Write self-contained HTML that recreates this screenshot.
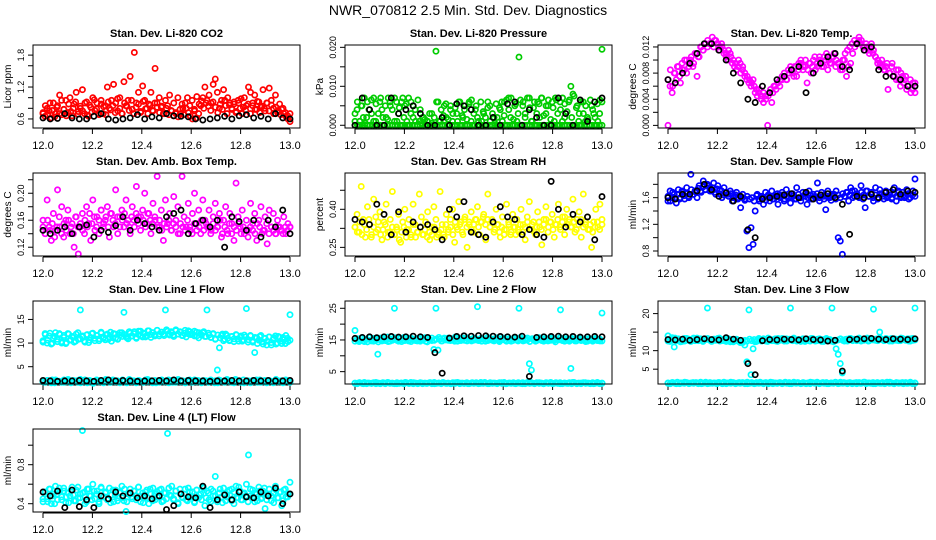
<!DOCTYPE html>
<html><head><meta charset="utf-8"><style>
html,body{margin:0;padding:0;background:#fff;}
svg{display:block;font-family:"Liberation Sans",sans-serif;}
</style></head><body>
<svg id="chart" width="936" height="540" viewBox="0 0 936 540" xmlns="http://www.w3.org/2000/svg">
<text x="468" y="15" text-anchor="middle" font-size="14">NWR_070812  2.5 Min. Std. Dev. Diagnostics</text>
</svg>
<script>
const xTicks=[12.0,12.2,12.4,12.6,12.8,13.0];
const xTickLabels=["12.0","12.2","12.4","12.6","12.8","13.0"];

const co2Red=[0.7,0.65,0.8,0.75,0.62,0.9,0.7,0.85,1.05,0.68,0.78,0.95,0.72,1.0,0.66,0.88,1.1,0.74,0.8,1.15,0.7,0.92,0.65,0.82,1.0,0.76,0.9,0.68,0.95,0.7,0.85,1.2,0.8,0.95,1.25,0.9,0.75,1.0,0.7,1.3,0.85,0.95,1.4,0.78,1.85,0.9,1.1,0.72,1.22,0.95,0.8,0.88,1.1,0.75,1.55,0.9,1.0,0.82,0.7,0.95,0.85,1.05,0.75,0.9,0.7,1.0,0.78,0.88,0.68,0.8,0.72,0.65,0.6,0.75,0.62,0.7,0.85,1.0,1.2,0.95,1.05,0.9,1.25,1.35,1.1,0.8,0.95,1.15,0.85,1.0,0.9,0.78,0.88,0.72,0.95,0.8,0.7,1.0,0.85,1.2,1.1,0.9,1.05,0.78,0.92,0.82,1.15,0.75,0.9,1.18,0.95,0.8,1.05,0.72,0.88,0.78,0.7,0.65,0.6,0.55];
const co2Band=[0.72,0.85,0.68,0.9,0.76,0.64,0.82,0.7,0.95,0.78,0.66,0.88,0.74,0.8,0.92,0.69,0.84,0.75,0.9,0.67,0.86,0.73,0.96,0.79,0.7,0.88,0.83,0.68,0.92,0.77,0.85,0.72,0.98,0.8,0.7,0.9,0.84,0.76,0.95,0.7,0.82,0.88,0.74,0.93,0.79,0.7,0.86,0.76,0.9,0.82,0.72,0.84,0.7,0.8,0.68,0.76,0.66,0.72,0.64,0.7,0.8,0.9,1.0,0.85,0.95,0.78,1.02,0.88,0.94,0.8,0.9,0.84,0.76,0.92,0.82,0.72,0.88,0.78,0.95,0.7,0.86,0.8,0.92,0.74,0.9,0.98,0.82,0.76,0.88,0.7,0.85,0.78,0.93,0.72,0.84,0.8,0.9,0.75,0.86,0.7,0.82,0.76,0.68,0.8,0.72,0.66,0.7];
const co2Black=[0.62,0.6,0.61,0.7,0.62,0.6,0.6,0.65,0.7,0.6,0.58,0.6,0.62,0.68,0.6,0.64,0.62,0.7,0.66,0.65,0.64,0.6,0.58,0.6,0.62,0.65,0.6,0.66,0.68,0.62,0.65,0.6,0.7,0.62,0.6];

const presGreen=[0.001,0.004,0,0.005,0.002,0.0005,0.006,0,0.003,0.007,0.001,0,0.006,0.004,0,0.002,0.007,0.005,0,0.001,0.006,0.003,0,0.007,0.005,0.001,0,0.006,0.002,0.004,0,0.001,0.0005,0.002,0,0.001,0,0.003,0,0.019,0.006,0.001,0,0.005,0.002,0,0.004,0.001,0,0.003,0.006,0,0.002,0.005,0,0.006,0.001,0,0.004,0.002,0,0.001,0.003,0,0.006,0.005,0,0.002,0.0055,0,0.004,0.001,0.006,0,0.007,0.002,0,0.005,0.001,0.0175,0,0.006,0.003,0,0.007,0.001,0.0045,0,0.006,0.002,0.007,0,0.003,0.005,0,0.006,0.001,0.0065,0,0.004,0.007,0.002,0,0.006,0.01,0.008,0,0.005,0.003,0,0.006,0.001,0.002,0,0.005,0.003,0,0.001,0.0065,0.0195];
const presBand=[0.003,0.006,0.001,0.005,0.007,0.002,0.004,0.0065,0.001,0.0055,0.003,0.007,0.002,0.005,0.0015,0.006,0.004,0.007,0.001,0.0045,0.006,0.002,0.0055,0.007,0.003,0.005,0.001,0.0065,0.004,0.002,0.0015,0.001,0.003,0.0005,0.002,0.006,0.001,0.004,0.0025,0.0055,0.0015,0.005,0.003,0.0045,0.001,0.006,0.0025,0.004,0.0015,0.0055,0.0065,0.003,0.005,0.001,0.006,0.0035,0.002,0.0045,0.001,0.003,0.0005,0.002,0.0045,0.006,0.0025,0.0065,0.004,0.007,0.0015,0.0055,0.003,0.0065,0.005,0.002,0.007,0.0045,0.001,0.006,0.003,0.0055,0.007,0.0025,0.005,0.0065,0.0015,0.0045,0.007,0.003,0.006,0.001,0.0055,0.0035,0.0065,0.002,0.0075,0.0045,0.001,0.006,0.003,0.005,0.0015,0.0065,0.004,0.002,0.0055,0.003,0.006];
const presGreenBase=[0,0,0,0,0,0,0,0,0,0,0,0,0,0,0,0,0,0,0,0,0,0,0,0,0,0,0,0,0,0,0,0,0,0,0,0,0,0,0,0,0,0,0,0,0,0,0,0,0,0,0,0,0,0,0,0,0,0,0,0,0,0,0,0,0,0,0,0,0,0,0,0,0,0,0,0,0,0,0,0,0,0,0,0,0,0,0,0,0,0,0,0,0,0,0,0,0,0,0,0];
const presBlack=[0,0.007,0.004,0,0,0.007,0.003,0.004,0.005,0.003,0,0,0.002,0,0.0055,0.005,0.004,0,0,0.002,0,0.0055,0.006,0,0.004,0.002,0,0,0.007,0.003,0,0.0065,0.001,0.006,0.007];

const tempMag=[0.0,0.006,0.005,0.008,0.007,0.009,0.0065,0.0085,0.01,0.008,0.0095,0.01,0.009,0.011,0.0075,0.0105,0.012,0.0115,0.0125,0.012,0.0125,0.0125,0.012,0.013,0.0125,0.0115,0.012,0.011,0.0105,0.01,0.011,0.0095,0.009,0.0085,0.01,0.008,0.009,0.0075,0.007,0.0065,0.006,0.007,0.005,0.0045,0.0055,0.004,0.0035,0.0045,0.0,0.005,0.0035,0.006,0.0055,0.0065,0.007,0.0075,0.008,0.007,0.0085,0.009,0.008,0.009,0.0075,0.0095,0.01,0.0085,0.009,0.0065,0.0095,0.008,0.01,0.0085,0.009,0.0105,0.0095,0.009,0.01,0.0085,0.0095,0.0105,0.011,0.01,0.0095,0.009,0.0085,0.01,0.0075,0.009,0.0095,0.011,0.012,0.0125,0.013,0.0125,0.012,0.0115,0.012,0.011,0.0125,0.0115,0.0105,0.0095,0.009,0.01,0.0085,0.009,0.0055,0.008,0.0095,0.0075,0.007,0.0085,0.006,0.0075,0.007,0.0055,0.006,0.005,0.0065,0.005];
const tempBand=[0.007,0.0085,0.006,0.008,0.009,0.0075,0.0095,0.0085,0.01,0.009,0.0105,0.0095,0.011,0.0105,0.012,0.0115,0.0125,0.013,0.0125,0.0135,0.013,0.0125,0.012,0.0125,0.0115,0.011,0.0115,0.0105,0.01,0.0095,0.009,0.0095,0.0085,0.008,0.0075,0.007,0.0065,0.006,0.0055,0.005,0.0045,0.005,0.004,0.0045,0.0055,0.005,0.006,0.0065,0.006,0.007,0.0075,0.007,0.008,0.0085,0.0075,0.009,0.0085,0.0095,0.009,0.01,0.0085,0.0095,0.009,0.0105,0.0095,0.01,0.009,0.0105,0.011,0.01,0.0095,0.0105,0.009,0.0095,0.0085,0.01,0.011,0.0115,0.012,0.0125,0.013,0.0125,0.0135,0.013,0.012,0.0125,0.0115,0.012,0.011,0.0105,0.01,0.0095,0.009,0.0085,0.0095,0.008,0.009,0.0075,0.0085,0.007,0.008,0.0065,0.0075,0.006,0.007,0.0055,0.0065];
const tempBlack=[0.007,0.0065,0.008,0.0095,0.011,0.0125,0.0125,0.0115,0.01,0.008,0.0065,0.004,0.0035,0.006,0.005,0.007,0.0075,0.0085,0.009,0.005,0.008,0.0095,0.0105,0.011,0.009,0.0085,0.0125,0.0115,0.012,0.0085,0.0075,0.0075,0.007,0.006,0.006];

const ambMag=[0.16,0.14,0.19,0.15,0.13,0.17,0.145,0.205,0.15,0.18,0.135,0.16,0.175,0.14,0.155,0.12,0.165,0.11,0.15,0.17,0.14,0.18,0.155,0.13,0.19,0.145,0.165,0.14,0.175,0.15,0.16,0.18,0.135,0.17,0.15,0.205,0.14,0.165,0.175,0.15,0.19,0.16,0.14,0.18,0.15,0.21,0.165,0.145,0.175,0.2,0.155,0.17,0.14,0.185,0.16,0.225,0.15,0.175,0.13,0.19,0.155,0.17,0.145,0.195,0.16,0.18,0.14,0.225,0.165,0.15,0.185,0.145,0.17,0.2,0.155,0.175,0.14,0.19,0.16,0.15,0.175,0.145,0.165,0.185,0.15,0.17,0.135,0.16,0.18,0.14,0.17,0.155,0.13,0.215,0.165,0.15,0.175,0.14,0.16,0.145,0.185,0.155,0.17,0.13,0.16,0.18,0.145,0.165,0.125,0.175,0.15,0.17,0.14,0.16,0.15,0.145,0.165,0.14,0.155,0.15];
const ambBand=[0.15,0.14,0.16,0.145,0.155,0.135,0.15,0.165,0.14,0.155,0.145,0.16,0.15,0.14,0.165,0.15,0.155,0.145,0.16,0.15,0.17,0.155,0.165,0.15,0.16,0.175,0.155,0.165,0.15,0.17,0.16,0.155,0.165,0.15,0.16,0.17,0.155,0.15,0.165,0.16,0.17,0.155,0.165,0.16,0.15,0.17,0.16,0.155,0.165,0.15,0.16,0.145,0.155,0.15,0.16,0.145,0.155,0.15,0.14,0.155,0.15,0.145,0.16,0.15,0.14,0.155,0.145,0.15,0.16,0.145,0.155,0.15,0.14,0.155,0.145,0.15,0.16,0.14,0.15,0.145,0.155,0.14,0.15,0.145,0.155,0.14,0.15,0.145,0.135,0.15,0.145,0.14,0.155,0.15,0.14,0.145,0.155,0.14,0.15,0.145,0.14,0.15,0.145,0.14,0.15,0.145,0.15];
const ambBlack=[0.145,0.14,0.145,0.15,0.14,0.15,0.153,0.135,0.145,0.142,0.152,0.165,0.145,0.16,0.155,0.15,0.145,0.165,0.17,0.175,0.14,0.155,0.16,0.15,0.16,0.12,0.165,0.158,0.145,0.16,0.135,0.16,0.15,0.175,0.14];

const rhYellow=[0.33,0.38,0.31,0.49,0.36,0.29,0.41,0.34,0.3,0.44,0.37,0.32,0.39,0.28,0.35,0.42,0.31,0.36,0.47,0.3,0.33,0.38,0.27,0.35,0.4,0.32,0.36,0.29,0.42,0.34,0.31,0.46,0.37,0.3,0.35,0.39,0.28,0.33,0.41,0.36,0.3,0.47,0.34,0.29,0.38,0.32,0.36,0.4,0.27,0.33,0.43,0.35,0.3,0.37,0.25,0.34,0.39,0.31,0.36,0.41,0.3,0.35,0.38,0.28,0.46,0.33,0.36,0.31,0.4,0.34,0.29,0.37,0.32,0.42,0.35,0.3,0.38,0.33,0.36,0.31,0.4,0.34,0.28,0.37,0.43,0.32,0.35,0.3,0.39,0.33,0.26,0.36,0.41,0.31,0.35,0.38,0.29,0.34,0.42,0.32,0.37,0.3,0.4,0.35,0.33,0.44,0.31,0.36,0.39,0.29,0.46,0.34,0.37,0.32,0.25,0.35,0.4,0.33,0.42,0.36];
const rhBand=[0.33,0.31,0.35,0.3,0.34,0.32,0.36,0.29,0.33,0.31,0.35,0.3,0.32,0.34,0.29,0.31,0.33,0.3,0.32,0.28,0.31,0.33,0.29,0.32,0.3,0.34,0.29,0.31,0.33,0.3,0.32,0.29,0.31,0.3,0.33,0.29,0.31,0.32,0.3,0.34,0.31,0.33,0.3,0.35,0.32,0.34,0.31,0.36,0.33,0.35,0.32,0.34,0.36,0.33,0.35,0.37,0.34,0.36,0.33,0.35,0.32,0.34,0.31,0.33,0.3,0.32,0.34,0.31,0.33,0.3,0.32,0.34,0.31,0.33,0.35,0.32,0.34,0.31,0.33,0.35,0.32,0.34,0.36,0.33,0.35,0.32,0.34,0.36,0.33,0.35,0.37,0.34,0.36,0.33,0.35,0.32,0.34,0.36,0.33,0.35,0.32,0.34,0.31,0.33,0.35,0.32,0.34];
const rhBlack=[0.36,0.35,0.34,0.42,0.38,0.3,0.39,0.31,0.35,0.33,0.34,0.32,0.28,0.4,0.37,0.43,0.31,0.3,0.29,0.35,0.41,0.37,0.36,0.3,0.32,0.3,0.29,0.51,0.4,0.33,0.38,0.35,0.37,0.28,0.45];

const flowBlue=[1.55,1.7,1.6,1.65,1.52,1.72,1.6,1.68,1.58,1.75,1.62,1.95,1.65,1.7,1.6,1.78,1.68,1.85,1.72,1.8,1.75,1.7,1.82,1.65,1.78,1.72,1.6,1.75,1.68,1.65,1.7,1.55,1.62,1.68,1.6,1.45,1.65,1.58,1.1,0.85,1.15,0.9,1.4,1.65,1.55,1.6,1.5,1.68,1.62,1.55,1.7,1.58,1.65,1.5,1.62,1.68,1.55,1.72,1.6,1.52,1.66,1.58,1.75,1.6,1.55,1.68,1.62,1.5,1.7,1.58,1.65,1.6,1.82,1.55,1.68,1.62,1.42,1.7,1.6,1.65,1.65,1.7,1.0,0.95,0.75,1.62,1.68,1.55,1.75,1.6,1.7,1.65,1.62,1.78,1.58,1.45,1.7,1.62,1.68,1.55,1.75,1.6,1.72,1.65,1.58,1.7,1.62,1.68,1.6,1.75,1.55,1.7,1.62,1.68,1.6,1.72,1.58,1.65,1.7,1.88];
const flowBand=[1.62,1.55,1.68,1.6,1.65,1.58,1.7,1.63,1.66,1.6,1.72,1.65,1.68,1.74,1.7,1.76,1.72,1.78,1.7,1.75,1.68,1.73,1.66,1.7,1.64,1.68,1.62,1.66,1.6,1.64,1.58,1.62,1.6,1.56,1.62,1.58,1.6,1.55,1.63,1.58,1.62,1.6,1.56,1.64,1.6,1.58,1.62,1.66,1.6,1.64,1.58,1.62,1.66,1.6,1.63,1.58,1.65,1.6,1.62,1.66,1.6,1.64,1.58,1.62,1.66,1.6,1.64,1.58,1.62,1.6,1.56,1.62,1.58,1.64,1.6,1.66,1.62,1.68,1.64,1.7,1.62,1.66,1.6,1.68,1.64,1.7,1.62,1.66,1.6,1.64,1.58,1.66,1.62,1.68,1.6,1.64,1.58,1.66,1.62,1.68,1.6,1.64,1.62,1.66,1.6,1.64,1.62];
const flowBlack=[1.6,1.58,1.65,1.65,1.7,1.8,1.72,1.62,1.67,1.55,1.62,1.12,1.0,1.58,1.6,1.62,1.64,1.66,1.6,1.68,1.58,1.64,1.66,1.6,1.5,1.05,1.62,1.6,1.65,1.6,1.68,1.72,1.65,1.7,1.68];

const l1CyanUp=[10.5,12,10,11.5,9.8,11,12.2,10.3,11.8,10,11.2,9.9,12,10.6,11.4,10.2,11.9,10.8,17,11.3,10.4,11.7,10.1,11.2,12.1,10.5,11.6,10.9,12.3,11,10.7,11.9,11.3,10.4,12,11.1,10.8,11.7,12.2,16.5,11.4,10.9,12.1,11.5,12.4,11,11.8,12.5,11.3,12,11.6,12.6,11.2,12.2,11.8,12.7,11.5,12.3,11.9,17,12.5,11.7,12.2,11.4,12.8,11.9,12.4,11.6,12.1,11.3,12.6,11.8,12,11.5,12.3,11.1,11.9,12.2,11.4,17,11.7,11.2,12,10.8,4.3,9,11.6,10.5,11.9,11,10.6,11.4,10.3,11.8,10.9,11.2,10.4,11.7,17.3,10.7,11.5,10.2,8,11.1,10.6,11.6,9.8,11,10.4,11.3,9.6,10.8,11.5,10,11.2,9.9,10.7,11.6,10.3,16];
const l1UpBand=[10.2,11.8,10.6,12.1,10,11.4,10.8,12,10.3,11.6,10.1,11.9,10.7,11.2,10.4,12.2,10.9,11.5,10.2,11.8,10.6,12,11,11.6,10.5,12.1,11.2,11.7,10.8,12.3,11.1,11.9,10.9,12.2,11.4,11.8,11.1,12.4,11.5,12,11.2,12.5,11.6,12.1,11.3,12.6,11.8,12.2,11.5,12.7,11.9,12.3,11.6,12.8,12,12.4,11.7,12.6,11.9,12.3,11.6,12.7,12,12.4,11.8,12.5,11.5,12.2,11.7,12.4,11.4,12.1,11.2,11.9,10.9,11.7,11.1,11.9,10.8,11.6,10.5,11.4,10.9,11.7,10.4,11.5,10.7,11.3,10.2,11.6,10.5,11.2,9.9,11.4,10.3,11,9.6,11.3,10.1,11.1,9.8,11.4,10.4,11.2,9.9,11,10.6];
const l1CyanLow=[1.8,2.1,1.6,2.2,1.9,1.7,2.3,1.8,2.0,1.6,2.2,1.9,1.5,2.1,1.8,2.3,1.7,2.0,1.9,2.2,1.6,2.1,1.8,2.0,1.7,2.3,1.9,1.6,2.1,1.8,2.2,1.7,2.0,1.9,1.6,2.2,1.8,2.1,1.7,2.0,1.9,1.6,2.2,1.8,2.1,1.7,2.3,1.9,1.6,2.0,1.8,2.2,1.7,2.1,1.9,1.6,2.0,1.8,2.2,1.9];
const l1LowBand=[1.9,1.7,2.1,1.8,2.2,1.6,2.0,1.9,1.7,2.2,1.8,2.0,1.6,2.1,1.9,1.7,2.3,1.8,2.0,1.6,2.1,1.9,1.7,2.2,1.8,2.0,1.6,2.1,1.9,1.7,2.2,1.8,2.0,1.6,2.1,1.9,1.7,2.3,1.8,2.0,1.6,2.1,1.9,1.7,2.2,1.8,2.0,1.6,2.1,1.9,1.7,2.2,1.8,2.0,1.6,2.1,1.9,1.7,2.3,1.8,2.0,1.6,2.1,1.9,1.7,2.2,1.8,2.0,1.6,2.1,1.9,1.7,2.2,1.8,2.0,1.6,2.1,1.9,1.7,2.3,1.8,2.0,1.6,2.1,1.9,1.7,2.2,1.8,2.0,1.6,2.1,1.9,1.7,2.2,1.8,2.0,1.6,2.1,1.9,1.7,2.3,1.8,2.0,1.6,2.1,1.9,1.7];
const l1Black=[2.1,2.0,1.9,2.0,2.0,2.1,2.0,1.9,2.1,2.2,2.0,2.1,2.0,1.9,2.0,2.0,2.1,2.0,2.2,2.0,2.1,2.0,2.0,1.9,2.0,2.0,2.1,2.0,2.0,2.1,2.0,2.1,2.0,2.0,2.1];

const l2CyanUp=[18,15,14.5,15.5,14.8,15.2,14.4,15.8,15,14.6,15.4,10.5,15.1,14.7,15.6,15,14.5,15.3,14.9,25,15.2,14.6,15.5,15,14.8,15.7,15.1,14.5,15.3,15,14.7,15.6,14.9,15.2,14.6,15.5,15,14.8,12,25,11.8,15.3,14.7,15.6,15.1,14.9,15.4,15,14.6,15.5,15.2,14.8,15.6,15,14.7,15.3,15.1,14.9,15.5,25.5,15,14.6,15.4,15.2,14.8,15.6,15,14.7,15.3,15.1,14.9,15.5,15,14.6,15.4,15.2,14.8,15.5,15,25,15.2,14.7,15.4,15,7.5,5.5,15.3,14.6,15.5,15.1,14.8,15.4,15,14.7,15.6,15.2,14.9,15.3,15,24.5,15.1,14.6,15.4,15,6,15.2,14.7,15.5,15.1,14.8,15.3,15,14.6,15.4,15.2,14.9,15.5,15,14.7,23.5];
const l2UpBand=[14.6,15.4,14.9,15.7,14.5,15.2,15.8,14.7,15.5,15,14.4,15.6,15.1,14.8,15.9,14.6,15.3,15.7,14.9,15.4,14.5,15.8,15.2,14.7,15.6,15,14.8,15.5,14.6,15.3,15.7,14.4,15.1,15.6,14.9,15.3,15.8,14.7,15.4,15,15.6,14.8,15.3,15.9,14.6,15.5,15.1,14.9,15.7,15.2,14.7,15.6,15,14.8,15.5,15.3,14.6,15.8,15.1,14.9,15.4,15.7,14.5,15.2,15.6,14.8,15.3,14.6,15.5,15,14.7,15.8,15.2,14.9,15.6,14.5,15.4,15.1,14.8,15.7,15,14.6,15.5,15.3,14.9,15.6,14.4,15.2,15.7,14.8,15.4,15,14.6,15.5,15.1,14.7,15.6,14.9,15.3,14.5,15.4,15,14.6,15.2,14.8,15.3,14.7];
const l2CyanLow=[1.3,1.5,1.2,1.4,1.3,1.6,1.2,1.4,1.5,1.3,1.2,1.4,1.6,1.3,1.5,1.2,1.4,1.3,1.5,1.2,1.4,1.6,1.3,1.2,1.5,1.4,1.3,1.2,1.5,1.4,1.3,1.6,1.2,1.4,1.3,1.5,1.2,1.4,1.3,1.5,1.2,1.4,1.6,1.3,1.5,1.2,1.4,1.3,1.5,1.2,1.4,1.3,1.6,1.2,1.4,1.5,1.3,1.2,1.4,1.3];
const l2LowBand=[1.4,1.2,1.5,1.3,1.6,1.2,1.4,1.3,1.5,1.2,1.4,1.3,1.5,1.2,1.6,1.3,1.4,1.2,1.5,1.3,1.4,1.2,1.5,1.3,1.6,1.2,1.4,1.3,1.5,1.2,1.4,1.3,1.5,1.2,1.6,1.3,1.4,1.2,1.5,1.3,1.4,1.2,1.5,1.3,1.6,1.2,1.4,1.3,1.5,1.2,1.4,1.3,1.5,1.2,1.6,1.3,1.4,1.2,1.5,1.3,1.4,1.2,1.5,1.3,1.6,1.2,1.4,1.3,1.5,1.2,1.4,1.3,1.5,1.2,1.6,1.3,1.4,1.2,1.5,1.3,1.4,1.2,1.5,1.3,1.6,1.2,1.4,1.3,1.5,1.2,1.4,1.3,1.5,1.2,1.6,1.3,1.4,1.2,1.5,1.3,1.4,1.2,1.5,1.3,1.6,1.2,1.4];
const l2Black=[15.5,15.8,16,15.7,16,16.1,15.9,16,16.2,16,15.8,11,4.5,15.6,16.1,16.3,16.2,16.4,16.3,16.2,16.1,16,15.9,16.2,3.5,15.8,16,16.1,16.2,16,16.1,15.9,16,16.1,16];

const l3CyanUp=[14,12.5,13.5,11,12.8,13.2,12.4,13,12.6,13.3,12.9,12.5,13.1,12.7,13.4,12.8,13,12.6,13.2,21.5,12.9,12.5,13.1,12.8,13.3,12.6,13,12.7,13.2,12.9,12.4,13,12.6,13.1,12.8,12.5,12.2,11.5,7,21,3.5,10.5,12.4,12.8,13,12.6,13.2,12.9,12.5,13.1,12.7,13,12.6,13.3,12.8,13,12.6,13.2,12.9,21.5,12.7,13.1,12.6,13,12.8,13.2,12.5,13,12.7,13.3,12.9,12.6,13.1,12.8,13,12.5,13.2,12.7,13,21.5,12.8,10.5,9,6.5,4,12.6,13.1,12.9,13.3,12.7,13,12.8,13.2,12.6,13.1,12.9,13.4,12.7,13,21.2,12.8,13.2,15,13,12.7,13.3,12.9,13.1,12.6,13.2,12.8,13,12.7,13.3,12.9,13.1,12.6,13.2,12.8,21.5];
const l3UpBand=[12.6,13.2,12.9,13.4,12.7,13,12.5,13.3,12.8,13.1,12.6,13.4,12.9,12.7,13.2,12.5,13,13.3,12.8,12.6,13.1,12.9,13.4,12.7,13,12.5,13.2,12.8,12.4,12.9,12.6,12.2,12.5,12.8,12.6,13.1,12.7,13,12.5,13.3,12.8,13.1,12.6,13.4,12.9,12.7,13.2,12.5,13,13.3,12.8,12.6,13.1,12.9,13.4,12.7,13,12.5,13.2,12.8,13.1,12.6,13.3,12.9,12.7,13.2,12.5,13,13.3,12.8,12.6,12.4,12.7,12.9,13.2,12.8,13,12.6,13.3,12.9,13.1,12.7,13.4,13,12.8,13.2,12.6,13.3,12.9,13.1,12.7,13.4,13,12.8,13.2,12.6,13.3,12.9,13.1,12.7,13.4,13,12.8,13.2,12.6,13.3,12.9];
const l3CyanLow=[1.2,1.4,1.1,1.3,1.5,1.2,1.4,1.3,1.1,1.5,1.2,1.3,1.4,1.1,1.3,1.5,1.2,1.4,1.3,1.1,1.4,1.2,1.5,1.3,1.1,1.4,1.2,1.3,1.5,1.1,1.3,1.4,1.2,1.1,1.5,1.3,1.2,1.4,1.1,1.3,1.5,1.2,1.4,1.3,1.1,1.4,1.2,1.5,1.3,1.1,1.4,1.2,1.3,1.5,1.1,1.3,1.4,1.2,1.3,1.2];
const l3LowBand=[1.3,1.1,1.4,1.2,1.5,1.1,1.3,1.2,1.4,1.1,1.3,1.2,1.4,1.1,1.5,1.2,1.3,1.1,1.4,1.2,1.3,1.1,1.4,1.2,1.5,1.1,1.3,1.2,1.4,1.1,1.3,1.2,1.4,1.1,1.5,1.2,1.3,1.1,1.4,1.2,1.3,1.1,1.4,1.2,1.5,1.1,1.3,1.2,1.4,1.1,1.3,1.2,1.4,1.1,1.5,1.2,1.3,1.1,1.4,1.2,1.3,1.1,1.4,1.2,1.5,1.1,1.3,1.2,1.4,1.1,1.3,1.2,1.4,1.1,1.5,1.2,1.3,1.1,1.4,1.2,1.3,1.1,1.4,1.2,1.5,1.1,1.3,1.2,1.4,1.1,1.3,1.2,1.4,1.1,1.5,1.2,1.3,1.1,1.4,1.2,1.3,1.1,1.4,1.2,1.5,1.1,1.3];
const l3Black=[13,12.9,13.1,12.8,13,13.2,13,12.9,13.5,13.1,12.8,6.5,3.5,12.7,13,12.9,13.1,13,12.9,13.2,13,12.9,12.6,12.8,4.5,13,13.1,13.2,13.3,13.1,13,13.2,13.1,13,13.2];

const l4Cyan=[0.42,0.52,0.45,0.55,0.4,0.5,0.58,0.44,0.53,0.47,0.56,0.41,0.51,0.48,0.57,0.43,0.54,0.46,0.5,1.15,0.52,0.42,0.55,0.48,0.6,0.45,0.53,0.4,0.57,0.47,0.51,0.44,0.56,0.49,0.42,0.54,0.46,0.52,0.58,0.43,0.32,0.5,0.55,0.45,0.53,0.48,0.57,0.42,0.51,0.46,0.54,0.4,0.5,0.56,0.44,0.52,0.47,0.55,0.43,0.51,1.12,0.49,0.58,0.45,0.53,0.41,0.55,0.47,0.5,0.44,0.56,0.48,0.52,0.42,0.54,0.46,0.5,0.57,0.38,0.53,0.44,0.55,0.48,0.68,0.42,0.51,0.47,0.56,0.43,0.52,0.49,0.55,0.4,0.58,0.46,0.53,0.44,0.51,0.6,0.9,0.48,0.54,0.42,0.5,0.57,0.45,0.53,0.35,0.49,0.55,0.43,0.51,0.58,0.46,0.52,0.38,0.54,0.47,0.5,0.62];
const l4Band=[0.45,0.52,0.42,0.55,0.48,0.4,0.5,0.56,0.44,0.53,0.47,0.41,0.54,0.49,0.43,0.57,0.46,0.51,0.4,0.55,0.48,0.44,0.53,0.5,0.42,0.56,0.47,0.52,0.45,0.41,0.54,0.49,0.43,0.51,0.46,0.55,0.42,0.5,0.47,0.53,0.44,0.57,0.48,0.41,0.52,0.46,0.55,0.43,0.5,0.47,0.54,0.42,0.51,0.45,0.56,0.48,0.44,0.53,0.4,0.5,0.46,0.55,0.43,0.52,0.47,0.41,0.54,0.49,0.44,0.56,0.46,0.51,0.42,0.53,0.48,0.45,0.55,0.41,0.5,0.47,0.54,0.43,0.52,0.46,0.57,0.44,0.5,0.48,0.42,0.55,0.47,0.51,0.43,0.53,0.46,0.56,0.44,0.5,0.48,0.41,0.54,0.46,0.52,0.43,0.55,0.47,0.5];
const l4Black=[0.52,0.48,0.53,0.36,0.54,0.37,0.44,0.36,0.48,0.45,0.52,0.48,0.51,0.46,0.48,0.45,0.48,0.34,0.38,0.5,0.47,0.46,0.58,0.36,0.44,0.49,0.44,0.52,0.47,0.46,0.52,0.48,0.56,0.4,0.5];

const NS="http://www.w3.org/2000/svg";
const svg=document.getElementById('chart');
const colL=[33,345,658], rowT=[45,173,301,429], PW=267, PH=83;
function mk(tag,attrs,parent){const e=document.createElementNS(NS,tag);for(const k in attrs)e.setAttribute(k,attrs[k]);(parent||svg).appendChild(e);return e;}

function panel(key,title,ylab,col,row,ylim,yTicks,yTickLabels,series){
  const L=colL[col],T=rowT[row],R=L+PW,B=T+PH;
  const g=mk('g',{});
  
  
  const xs=t=>L+10+(t-12)*(PW-20);
  const ys=v=>B-(v-ylim[0])/(ylim[1]-ylim[0])*PH;
  const tt=mk('text',{x:(L+R)/2,y:T-8,'text-anchor':'middle','font-size':11,'font-weight':'bold'},g);
  tt.textContent=title;
  
  
  const yl=mk('text',{x:0,y:0,'text-anchor':'middle','font-size':10,transform:`translate(${L-22},${(T+B)/2}) rotate(-90)`},g);
  yl.textContent=ylab;
  
  
  const xa=mk('g',{},g);
  
  
  mk('line',{x1:xs(xTicks[0]),x2:xs(xTicks[xTicks.length-1]),y1:B+1,y2:B+1,stroke:'#000'},xa);
  xTicks.forEach((t,i)=>{
    mk('line',{x1:xs(t),x2:xs(t),y1:B+1,y2:B+6,stroke:'#000'},xa);
    const lt=mk('text',{x:xs(t),y:B+21,'text-anchor':'middle','font-size':11},xa);
    lt.textContent=xTickLabels[i];
    
    
  });
  const ya=mk('g',{},g);
  
  
  mk('line',{x1:L,x2:L,y1:ys(yTicks[0]),y2:ys(yTicks[yTicks.length-1]),stroke:'#000'},ya);
  yTicks.forEach((v,i)=>{
    const y=ys(v);
    mk('line',{x1:L-5,x2:L,y1:y,y2:y,stroke:'#000'},ya);
    if(yTickLabels[i]){
      const lt=mk('text',{x:0,y:0,'text-anchor':'middle','font-size':9,transform:`translate(${L-9},${y}) rotate(-90)`},ya);
      lt.textContent=yTickLabels[i];
      
      
    }
  });
  series.forEach(s=>{
    const sg=mk('g',{fill:'none',stroke:s.color,'stroke-width':1.7},g);
    
    
    const n=s.vals.length;
    s.vals.forEach((v,i)=>{
      const t=12+i/(n-1);
      const c=mk('circle',{cx:xs(t),cy:ys(v),r:2.6},sg);
      
      
    });
  });
  const box=mk('rect',{x:L,y:T,width:PW,height:PH,fill:'none',stroke:'#000'},g);
  
  
}

panel('co2','Stan. Dev. Li-820 CO2','Licor ppm',0,0,[0.43,1.99],[0.6,0.8,1.0,1.2,1.4,1.6,1.8],['0.6','','','1.2','','','1.8'],
  [{name:'red-band',color:'#ff0000',vals:co2Band},{name:'red-series',color:'#ff0000',vals:co2Red},{name:'black-series',color:'#000',vals:co2Black}]);
panel('pressure','Stan. Dev. Li-820 Pressure','kPa',1,0,[-0.0007,0.0206],[0,0.005,0.01,0.015,0.02],['0.000','','0.010','','0.020'],
  [{name:'green-base',color:'#00cc00',vals:presGreenBase},{name:'green-band',color:'#00cc00',vals:presBand},{name:'green-series',color:'#00cc00',vals:presGreen},{name:'black-series',color:'#000',vals:presBlack}]);
panel('temp','Stan. Dev. Li-820 Temp.','degrees C',2,0,[-0.0004,0.0123],[0,0.002,0.004,0.006,0.008,0.01,0.012],['0.000','','0.004','','0.008','','0.012'],
  [{name:'magenta-band',color:'#ff00ff',vals:tempBand},{name:'magenta-series',color:'#ff00ff',vals:tempMag},{name:'black-series',color:'#000',vals:tempBlack}]);
panel('ambbox','Stan. Dev. Amb. Box Temp.','degrees C',0,1,[0.107,0.230],[0.12,0.14,0.16,0.18,0.2,0.22],['0.12','','0.16','','0.20',''],
  [{name:'magenta-band',color:'#ff00ff',vals:ambBand},{name:'magenta-series',color:'#ff00ff',vals:ambMag},{name:'black-series',color:'#000',vals:ambBlack}]);
panel('rh','Stan. Dev. Gas Stream RH','percent',1,1,[0.216,0.543],[0.25,0.325,0.40,0.475],['0.25','','0.40',''],
  [{name:'yellow-band',color:'#ffff00',vals:rhBand},{name:'yellow-series',color:'#ffff00',vals:rhYellow},{name:'black-series',color:'#000',vals:rhBlack}]);
panel('sampleflow','Stan. Dev. Sample Flow','ml/min',2,1,[0.725,1.97],[0.8,1.0,1.2,1.4,1.6,1.8],['0.8','','1.2','','1.6',''],
  [{name:'blue-band',color:'#0000ff',vals:flowBand},{name:'blue-series',color:'#0000ff',vals:flowBlue},{name:'black-series',color:'#000',vals:flowBlack}]);
panel('line1','Stan. Dev. Line 1 Flow','ml/min',0,2,[1.34,18.9],[5,10,15],['5','10','15'],
  [{name:'cyan-upper-band',color:'#00ffff',vals:l1UpBand},{name:'cyan-upper',color:'#00ffff',vals:l1CyanUp},{name:'cyan-lower',color:'#00ffff',vals:l1CyanLow},{name:'cyan-lower-band',color:'#00ffff',vals:l1LowBand},{name:'black-series',color:'#000',vals:l1Black}]);
panel('line2','Stan. Dev. Line 2 Flow','ml/min',1,2,[1.1,27.3],[5,10,15,20,25],['5','','15','','25'],
  [{name:'cyan-upper-band',color:'#00ffff',vals:l2UpBand},{name:'cyan-upper',color:'#00ffff',vals:l2CyanUp},{name:'cyan-lower',color:'#00ffff',vals:l2CyanLow},{name:'cyan-lower-band',color:'#00ffff',vals:l2LowBand},{name:'black-series',color:'#000',vals:l2Black}]);
panel('line3','Stan. Dev. Line 3 Flow','ml/min',2,2,[1.0,23.4],[5,10,15,20],['5','10','','20'],
  [{name:'cyan-upper-band',color:'#00ffff',vals:l3UpBand},{name:'cyan-upper',color:'#00ffff',vals:l3CyanUp},{name:'cyan-lower',color:'#00ffff',vals:l3CyanLow},{name:'cyan-lower-band',color:'#00ffff',vals:l3LowBand},{name:'black-series',color:'#000',vals:l3Black}]);
panel('line4','Stan. Dev. Line 4 (LT) Flow','ml/min',0,3,[0.315,1.166],[0.4,0.6,0.8,1.0],['0.4','','0.8',''],
  [{name:'cyan-band',color:'#00ffff',vals:l4Band},{name:'cyan-series',color:'#00ffff',vals:l4Cyan},{name:'black-series',color:'#000',vals:l4Black}]);
</script>
</body></html>
